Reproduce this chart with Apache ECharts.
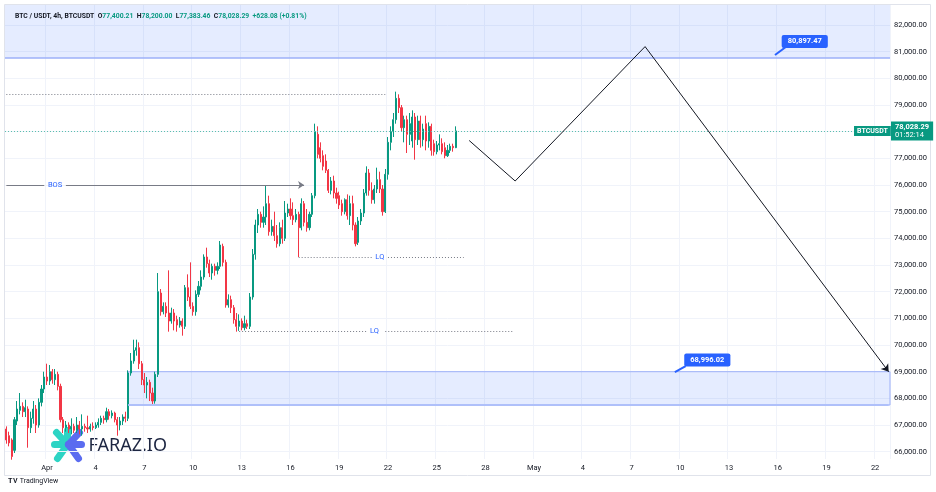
<!DOCTYPE html>
<html>
<head>
<meta charset="utf-8">
<script src="https://cdn.jsdelivr.net/npm/echarts@6/dist/echarts.min.js"></script>
<style>
  html, body { margin: 0; padding: 0; background: #fff; }
  #main { width: 936px; height: 492px; }
</style>
</head>
<body>
<div id="main"></div>
<script>
// 4h candles, BTC/USDT — [open, close, low, high]
const ohlc = [
  [66850,66440,66300,66950],[66600,66330,66200,66750],[66440,65820,65700,66500],[66050,67200,65950,67300],
  [67150,67600,67000,67900],[67550,67700,67400,68200],[67700,67500,67300,67850],[67500,67650,67300,67950],
  [67600,66900,66150,67700],[66900,67250,66700,67500],[67250,67600,67050,67900],[67600,67000,66700,67750],
  [67000,67850,66900,68000],[67850,68350,67700,68500],[68350,68800,68200,69000],[68800,68650,68500,69300],
  [68650,69000,68500,69250],[69000,68700,68550,69100],[68700,68900,68500,69100],[68900,68450,68300,69000],
  [68450,67200,67100,68550],[67200,66900,66700,67300],[66900,67000,66750,67150],[67000,66850,66700,67100],
  [66850,66950,66650,67250],[66950,66800,66700,67050],[66800,67000,66700,67300],[67000,66850,66650,67150],
  [66850,66950,66600,67400],[66950,66900,66750,67050],[66900,66850,66700,67350],[66850,66950,66750,67050],
  [66950,66900,66800,67100],[66900,67000,66850,67100],[67000,67100,66900,67250],[67100,67250,67000,67350],
  [67250,67200,67050,67350],[67200,67500,67100,67650],[67500,67350,67200,67600],[67350,67450,67250,67550],
  [67450,67200,67100,67500],[67200,67000,66600,67300],[67000,67150,66800,67300],[67150,67300,67000,67400],
  [67300,67250,67100,67500],[67250,68950,67150,69050],[68950,69400,68850,69700],[69400,69800,69300,70200],
  [69800,69900,69600,70200],[69900,69300,69100,70100],[69300,68700,68500,69400],[68700,68500,68200,68950],
  [68500,68600,68000,68800],[68600,68200,67900,68700],[68200,67900,67750,68400],[67900,68900,67800,69000],
  [68900,72000,68800,72700],[71950,71250,71100,72100],[71250,71450,71150,71600],[71450,71200,71050,71600],
  [71200,70900,70500,72800],[70900,71200,70800,71400],[71200,70900,70550,71350],[70950,70750,70500,71100],
  [70750,70900,70650,71050],[70900,70700,70350,71000],[70700,72150,70600,72250],[72150,71800,71650,72650],
  [71800,71450,71350,73100],[71450,71250,71100,71600],[71250,71900,71100,72050],[71900,72200,71800,72400],
  [72200,72550,72050,72800],[72550,73300,72450,73400],[73300,73050,72900,73650],[73050,72700,72550,73200],
  [72700,72950,72450,73050],[72950,72800,72600,73050],[72800,72950,72650,73100],[72950,73750,72850,73900],
  [73700,73100,72950,73800],[73100,71500,71400,73200],[71500,71700,71400,71900],[71700,71400,71200,71850],
  [71400,70950,70800,71500],[70950,70700,70500,71200],[70700,70900,70530,71150],[70900,70650,70550,71000],
  [70650,70800,70550,71100],[70800,70700,70600,70950],[70700,71800,70600,71950],[71800,73400,71700,73600],
  [73400,74500,73200,74700],[74500,74900,74200,75100],[74900,74600,74400,75000],[74600,74800,74400,75200],
  [74800,75300,74500,76000],[75300,74250,74100,75600],[74250,74450,74100,74700],[74450,74100,73900,75000],
  [74100,73800,73650,74500],[73800,74400,73700,74600],[74400,74000,73800,74700],[74000,74950,73900,75400],
  [74950,75100,74800,75300],[75100,74850,74700,75500],[74850,74700,74500,75350],[74700,74900,74600,75100],
  [74900,74400,73300,75000],[74400,75300,74300,75500],[75300,74600,74450,75400],[74600,74400,74250,75100],
  [74400,74900,74300,75000],[74900,75600,74800,75700],[75600,78000,75500,78300],[77900,77150,77000,78200],
  [77400,77000,76850,77600],[77100,76700,76550,77300],[76900,76550,76450,77150],[76550,75800,75700,76600],
  [75800,76150,75650,76300],[76150,75700,75500,76350],[75700,75500,75300,75900],[75600,75250,75100,75750],
  [75300,75000,74850,75450],[75000,75450,74900,75500],[75450,74850,74700,75650],[74850,75300,74500,75600],
  [75300,74500,74300,75600],[74500,73800,73700,74600],[73850,74650,73750,74800],[74650,74950,74500,75100],
  [74950,75700,74800,75850],[75700,76450,75600,76700],[76450,75800,75600,76600],[75800,75450,75300,76100],
  [75450,75850,75300,76000],[75850,76200,75700,76650],[76200,75850,75700,76500],[75850,75000,74850,76000],
  [75000,76400,74950,76600],[76400,77600,76200,77800],[77600,78000,77300,78200],[78000,78450,77800,78700],
  [78450,79250,78300,79500],[79250,78900,78700,79400],[78900,78150,78000,79000],[78150,78450,77600,78600],
  [78450,77900,77200,78600],[77900,78300,77500,78700],[77650,78550,77400,78800],[78550,77700,76950,78700],
  [77700,78400,77500,78600],[78400,77700,77400,78600],[77700,78100,77450,78300],[78300,77650,77300,78600],
  [77650,78200,77400,78350],[78200,77300,77100,78300],[77550,77250,77100,77700],[77250,77500,77150,77650],
  [77500,77550,77300,77900],[77550,77250,77150,77750],[77400,77100,77000,77600],[77100,77300,77050,77500],
  [77300,77450,77200,77550],[77450,77400,77250,77550],[77400.21,78028.29,77383.46,78200]
];

// time slots (4h), first slot Mar 29 12:00, runs past the last candle into the projection
const slotCount = 327;
const startTime = Date.UTC(2025, 2, 29, 12);
const tickDates = ['04-01','04-04','04-07','04-10','04-13','04-16','04-19','04-22','04-25','04-28',
                   '05-01','05-04','05-07','05-10','05-13','05-16','05-19','05-22'];
const tickLabels = ['Apr','4','7','10','13','16','19','22','25','28','May','4','7','10','13','16','19','22'];
const priceTicks = [66000,67000,68000,69000,70000,71000,72000,73000,74000,75000,76000,77000,78000,79000,80000,81000,82000];

// drawings (slot index / price)
const supplyZone = [80760, 82750];
const demandZone = [69000, 67750];
const demandSlots = [45, 326];
const bosLevel = 76000;
const bosSlots = [0, 14, 22, 110];
const bosLabelSlot = 18;
const highLevel = 79400;
const highSlots = [0, 140];
const lq1 = { level: 73300, slots: [108, 135, 141, 169], label: 138 };
const lq2 = { level: 70530, slots: [86, 133, 140, 187], label: 136 };
const pathSlots = [171, 188, 236, 326];
const pathValues = [77670, 76150, 81190, 69000];
const lastClose = 78028.29;
const countdown = '01:52:14';
const upperTag = { slot: 295, value: 81381, text: '80,897.47', tail: [[288, 81175], [284, 80875]] };
const lowerTag = { slot: 259, value: 69437, text: '68,996.02', tail: [[251, 69212], [247, 68987]] };

const categories = [];
for (let i = 0; i < slotCount; i++) {
  const d = new Date(startTime + i * 4 * 3600 * 1000);
  const mm = String(d.getUTCMonth() + 1).padStart(2, '0');
  const dd = String(d.getUTCDate()).padStart(2, '0');
  const hh = String(d.getUTCHours()).padStart(2, '0');
  categories.push(mm + '-' + dd + ' ' + hh);
}
const tickMap = {};
tickDates.forEach((d, i) => { tickMap[d + ' 00'] = tickLabels[i]; });

const fmt = v => v.toLocaleString('en-US', { minimumFractionDigits: 2, maximumFractionDigits: 2 });
const c = i => categories[i];

const GREEN = '#089981', RED = '#F23645', BLUE = '#2962FF', GREY = '#787B86', ZONE = '#9DB1F8';
const FONT = 'Roboto';

const dotted = { color: GREY, width: 1, type: [1, 2] };
const solid = { color: GREY, width: 1, type: 'solid' };
const black = { color: '#131722', width: 1, type: 'solid' };
const tailStyle = { color: BLUE, width: 2, type: 'solid' };

function seg(a, b, level, style, endSym) {
  const end = { coord: [c(b), level] };
  if (endSym) { end.symbol = 'arrow'; end.symbolSize = 6; }
  return [{ coord: [c(a), level], lineStyle: style }, end];
}

const markLines = [
  { yAxis: lastClose, lineStyle: { color: '#5BBFAE', width: 1, type: [1, 2] },
    label: {
      show: true, position: 'end', distance: 1,
      formatter: '{p|' + fmt(lastClose) + '}\n{t|' + countdown + '}',
      backgroundColor: GREEN, padding: [2, 4, 1, 4],
      rich: {
        p: { color: '#fff', fontSize: 7.5, fontWeight: 'bold', fontFamily: FONT, lineHeight: 8 },
        t: { color: '#fff', fontSize: 7.5, fontFamily: FONT, lineHeight: 8 }
      }
    } },
  { yAxis: supplyZone[0], lineStyle: { color: ZONE, width: 1.5, type: 'solid' } },
  seg(demandSlots[0], demandSlots[1], demandZone[1], { color: '#AFC0FA', width: 2, type: 'solid' }),
  seg(highSlots[0], highSlots[1], highLevel, dotted),
  seg(bosSlots[0], bosSlots[1], bosLevel, solid),
  seg(bosSlots[2], bosSlots[3], bosLevel, solid, true),
  seg(lq1.slots[0], lq1.slots[1], lq1.level, dotted),
  seg(lq1.slots[2], lq1.slots[3], lq1.level, dotted),
  seg(lq2.slots[0], lq2.slots[1], lq2.level, dotted),
  seg(lq2.slots[2], lq2.slots[3], lq2.level, dotted)
];
for (let i = 0; i < pathSlots.length - 1; i++) {
  const end = { coord: [c(pathSlots[i + 1]), pathValues[i + 1]] };
  if (i === pathSlots.length - 2) { end.symbol = 'arrow'; end.symbolSize = 7; }
  markLines.push([{ coord: [c(pathSlots[i]), pathValues[i]], lineStyle: black }, end]);
}
[upperTag, lowerTag].forEach(t => {
  markLines.push([{ coord: [c(t.tail[0][0]), t.tail[0][1]], lineStyle: tailStyle },
                  { coord: [c(t.tail[1][0]), t.tail[1][1]] }]);
});

const textTag = (slot, value, text) => ({
  coord: [c(slot), value],
  label: { show: true, formatter: text, color: BLUE, fontSize: 7.5, fontFamily: FONT }
});
const priceTag = t => ({
  coord: [c(t.slot), t.value],
  label: { show: true, formatter: t.text, color: '#fff', backgroundColor: BLUE, borderRadius: 2,
           padding: [3, 6, 2, 6], fontSize: 7.5, fontWeight: 'bold', fontFamily: FONT }
});

const chart = echarts.init(document.getElementById('main'));
chart.setOption({
  animation: false,
  backgroundColor: '#fff',
  title: {
    left: 10, top: 8,
    text: '{t|BTC / USDT, 4h, BTCUSDT}  {k|O}{v|77,400.21}  {k|H}{v|78,200.00}  {k|L}{v|77,383.46}  {k|C}{v|78,028.29}  {v|+628.08 (+0.81%)}',
    textStyle: {
      fontSize: 6.8, fontFamily: FONT,
      rich: {
        t: { color: '#131722', fontSize: 6.8, fontFamily: FONT },
        k: { color: '#131722', fontSize: 6.8, fontFamily: FONT },
        v: { color: GREEN, fontSize: 6.8, fontFamily: FONT }
      }
    }
  },
  grid: { left: 5, right: 46, top: 5, bottom: 33 },
  xAxis: {
    type: 'category',
    data: categories,
    boundaryGap: true,
    axisLine: { show: false },
    axisTick: { show: false },
    axisLabel: {
      interval: (i, v) => tickMap[v] !== undefined,
      formatter: v => tickMap[v] || '',
      color: '#131722', fontSize: 7.5, fontFamily: FONT, margin: 5
    },
    splitLine: { show: true, interval: (i, v) => tickMap[v] !== undefined, lineStyle: { color: '#F0F3FA' } }
  },
  yAxis: {
    type: 'value',
    position: 'right',
    min: 65726, max: 82750,
    axisLine: { show: false },
    axisTick: { show: false, customValues: priceTicks },
    axisLabel: {
      customValues: priceTicks,
      formatter: v => fmt(v),
      color: '#131722', fontSize: 7.5, fontFamily: FONT, margin: 4
    },
    splitLine: { lineStyle: { color: '#F0F3FA' } }
  },
  series: [{
    type: 'candlestick',
    data: ohlc,
    barWidth: 1.6,
    itemStyle: { color: GREEN, color0: RED, borderColor: GREEN, borderColor0: RED, borderWidth: 1 },
    markArea: {
      silent: true,
      itemStyle: { color: 'rgba(41,98,255,0.12)' },
      data: [
        [{ yAxis: supplyZone[0] }, { yAxis: supplyZone[1] }],
        [{ xAxis: c(demandSlots[0]), yAxis: demandZone[0],
           itemStyle: { borderColor: ZONE, borderWidth: 1 } }, { yAxis: demandZone[1] }]
      ]
    },
    markLine: {
      silent: true,
      symbol: ['none', 'none'],
      label: { show: false },
      data: markLines
    },
    markPoint: {
      silent: true,
      symbol: 'circle', symbolSize: 0,
      data: [
        textTag(bosLabelSlot, bosLevel, 'BOS'),
        textTag(lq1.label, lq1.level, 'LQ'),
        textTag(lq2.label, lq2.level, 'LQ'),
        priceTag(upperTag),
        priceTag(lowerTag),
        { coord: [c(320), lastClose],
          label: { show: true, formatter: 'BTCUSDT', color: '#fff', backgroundColor: GREEN,
                   padding: [2, 3, 1, 3], fontSize: 7, fontWeight: 'bold', fontFamily: FONT } }
      ]
    }
  }],
  graphic: [
    { type: 'rect', shape: { x: 4.5, y: 4.5, width: 926, height: 471 }, silent: true,
      style: { fill: 'none', stroke: '#E0E3EB', lineWidth: 1 }, z: 0 },
    // FARAZ.IO watermark
    { type: 'group', left: 51, top: 427, z: 100, children: [
      { type: 'line', shape: { x1: 16, y1: 17, x2: 5, y2: 5 }, style: { stroke: '#2DD4C4', lineWidth: 7, lineCap: 'round' } },
      { type: 'line', shape: { x1: 16, y1: 17, x2: 3, y2: 17 }, style: { stroke: '#2DD4C4', lineWidth: 7, lineCap: 'round' } },
      { type: 'line', shape: { x1: 16, y1: 17, x2: 6, y2: 31 }, style: { stroke: '#2DD4C4', lineWidth: 7, lineCap: 'round' } },
      { type: 'line', shape: { x1: 16, y1: 17, x2: 16, y2: 3 }, style: { stroke: '#2DD4C4', lineWidth: 7, lineCap: 'round' } },
      { type: 'line', shape: { x1: 17, y1: 17, x2: 28, y2: 5 }, style: { stroke: '#5B6CF0', lineWidth: 7, lineCap: 'round' } },
      { type: 'line', shape: { x1: 17, y1: 17, x2: 30, y2: 17 }, style: { stroke: '#5B6CF0', lineWidth: 7, lineCap: 'round' } },
      { type: 'line', shape: { x1: 17, y1: 17, x2: 27, y2: 31 }, style: { stroke: '#5B6CF0', lineWidth: 7, lineCap: 'round' } },
      { type: 'text', x: 37, y: 18, style: { text: 'FARAZ.IO', fill: '#1C2541', font: '18px "Noto Sans"', textVerticalAlign: 'middle' } }
    ] },
    { type: 'text', left: 8, top: 478, z: 100,
      style: { text: '𝐓𝐕 TradingView', fill: '#131722', font: '7px Roboto' } }
  ]
});
</script>
</body>
</html>
